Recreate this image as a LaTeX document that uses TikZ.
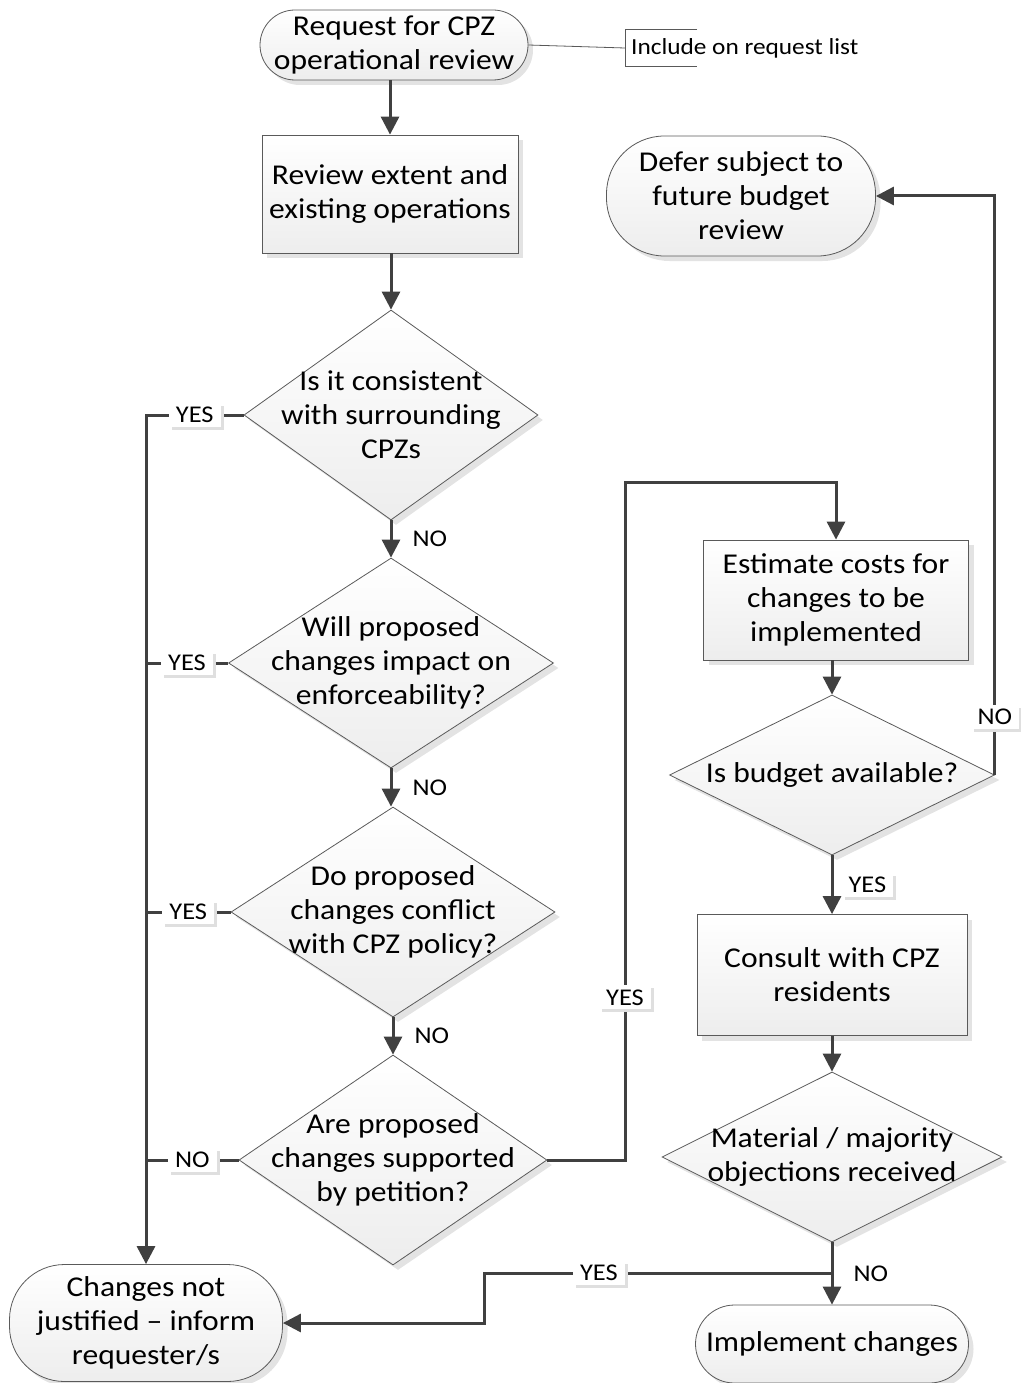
\documentclass[tikz,border=0pt]{standalone}
\usepackage{fontspec}
\setmainfont{Carlito}[FakeStretch=1.1]
\usepackage{tikz}
\usetikzlibrary{shapes.geometric,shadows,arrows.meta,calc}
\definecolor{linegray}{HTML}{404040}
\definecolor{edgegray}{HTML}{5A5A5A}
\newcommand\shapefont{\fontsize{28.7}{34}\selectfont}
\newcommand\tagfont{\fontsize{24}{27}\selectfont}
\newcommand\notefont{\fontsize{23}{26}\selectfont}

\begin{document}
\begin{tikzpicture}[x=1pt,y=-1pt]
\tikzset{
  shaded shape/.style={draw=edgegray,line width=0.8pt,top color=white,bottom color=gray!14,
    drop shadow={shadow xshift=5pt,shadow yshift=-5pt,fill=gray!22,opacity=1}},
  procbox/.style={shaded shape,rectangle,align=center,inner sep=0pt,font=\shapefont},
  termbox/.style={procbox,rounded corners=#1},
  decision/.style={shaded shape,diamond,inner sep=0pt},
  dtext/.style={align=center,inner sep=0pt,font=\shapefont},
  conn/.style={draw=linegray,line width=3pt,-{Triangle[length=18pt,width=18pt]}},
  tag/.style={fill=white,font=\tagfont,inner xsep=7pt,inner ysep=4pt,
    drop shadow={shadow xshift=3pt,shadow yshift=-3pt,fill=gray!25,opacity=1}},
  sidetag/.style={font=\tagfont,inner sep=2pt},
  notebox/.style={font=\notefont,inner xsep=6pt,minimum height=36pt},
  noteline/.style={draw=gray!70!black,line width=0.8pt}
}
\useasboundingbox (0,0) rectangle (1020,1383);

% left column
\node (req) at (394,45) [termbox=35pt,minimum width=268,minimum height=70] {Request for CPZ\\operational review};
\node (rev) at (390,194) [procbox,minimum width=256,minimum height=118] {Review extent and\\existing operations};
\node (d1) at (391,415) [decision,minimum width=294,minimum height=210,label={[dtext]center:Is it consistent\\with surrounding\\CPZs}] {};
\node (d2) at (391,663) [decision,minimum width=325,minimum height=210,label={[dtext]center:Will proposed\\changes impact on\\enforceability?}] {};
\node (d3) at (393,912) [decision,minimum width=324,minimum height=210,label={[dtext]center:Do proposed\\changes conflict\\with CPZ policy?}] {};
\node (d4) at (393,1160) [decision,minimum width=308,minimum height=210,label={[dtext]center:Are proposed\\changes supported\\by petition?}] {};
\node (chg) at (146,1323) [termbox=55pt,minimum width=273,minimum height=117] {Changes not\\justified -- inform\\requester/s};

% right column
\node (dfr) at (741,196) [termbox=58pt,minimum width=269,minimum height=120] {Defer subject to\\future budget\\review};
\node (est) at (836,600) [procbox,minimum width=265,minimum height=120] {Estimate costs for\\changes to be\\implemented};
\node (d5) at (832,775) [decision,minimum width=325,minimum height=160,label={[dtext]center:Is budget available?}] {};
\node (con) at (832,975) [procbox,minimum width=270,minimum height=121] {Consult with CPZ\\residents};
\node (d6) at (832,1157) [decision,minimum width=340,minimum height=170,label={[dtext]center:Material / majority\\objections received}] {};
\node (imp) at (832,1344) [termbox=39pt,minimum width=273,minimum height=78] {Implement changes};

% annotation
\node (ann) at (625,48) [notebox,anchor=west] {Include on request list};
\draw[noteline] (req.east) -- (ann.west);
\draw[noteline] ($(ann.north west)+(72,0)$) -- (ann.north west) -- (ann.south west) -- ++(72,0);

\coordinate (j1) at (625,482);
\coordinate (j2) at (832,1273);
\coordinate (j3) at (484,1273);

% connectors
\draw[conn] (req.south -| rev.north) -- (rev.north);
\draw[conn] (rev.south -| d1.north) -- (d1.north);
\draw[conn] (d1.south) -- node[sidetag,right=18pt] {NO} (d2.north);
\draw[conn] (d2.south) -- node[sidetag,right=18pt] {NO} (d2.south |- d3.north);
\draw[conn] (d3.south) -- node[sidetag,right=18pt] {NO} (d4.north);
\draw[conn] (d1.west) -| node[tag,pos=0.25] {YES} (chg.north);
\draw[conn,-] (d2.west) -- node[tag] {YES} (d2.west -| chg.north);
\draw[conn,-] (d3.west) -- node[tag] {YES} (d3.west -| chg.north);
\draw[conn,-] (d4.west) -- node[tag] {NO} (d4.west -| chg.north);
\draw[conn] (d4.east) -| node[tag,pos=0.62] {YES} (j1) -| (est.north);
\draw[conn] (est.south -| d5.north) -- (d5.north);
\draw[conn] (d5.east) |- node[tag,pos=0.05] {NO} (dfr.east);
\draw[conn] (d5.south) -- node[tag,right=8pt] {YES} (con.north);
\draw[conn] (con.south) -- (d6.north);
\draw[conn] (d6.south) -- node[sidetag,right=18pt] {NO} (imp.north);
\draw[conn] (j2) -- node[tag,pos=0.67] {YES} (j3) |- (chg.east);
\end{tikzpicture}
\end{document}
